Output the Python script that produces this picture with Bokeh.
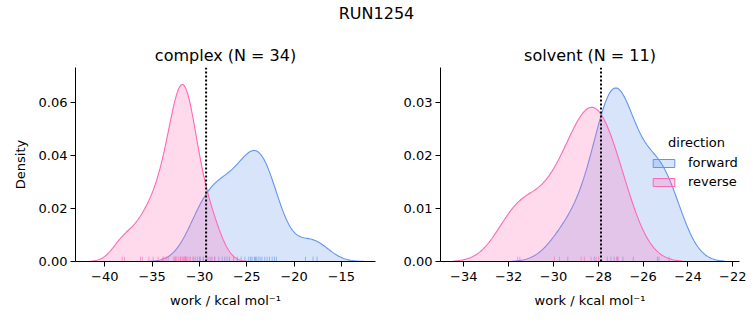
import numpy as np
from bokeh.plotting import figure
from bokeh.layouts import row, column
from bokeh.models import (Span, Legend, LegendItem, Range1d, FixedTicker,
                          CustomJSTickFormatter, Label)
from bokeh.embed import file_html
from bokeh.resources import INLINE

# ---------------- data ----------------
suptitle = "RUN1254"
phases = ["complex", "solvent"]
directions = ["forward", "reverse"]

complex_forward = [-29.9, -30.6, -30.0, -29.6, -29.2, -28.8, -28.4, -27.96, -27.6, -27.33,
                   -27.08, -26.83, -26.4, -26.0, -25.6, -25.2, -24.79, -24.6, -24.44, -24.2,
                   -24.09, -23.8, -23.4, -23.1, -22.85, -22.6, -22.32, -22.08, -21.87, -24.0,
                   -23.6, -18.8, -18.0, -17.57]
complex_reverse = [-38.16, -37.92, -36.23, -36.05, -35.35, -34.89, -34.36, -33.77, -33.5,
                   -33.3, -32.0, -31.5, -32.71, -32.6, -32.53, -32.4, -32.19, -33.9, -32.0,
                   -30.2, -31.83, -31.7, -31.6, -31.48, -31.4, -31.3, -31.1, -30.95, -30.7,
                   -30.4, -29.6, -29.0, -28.66, -28.38]
solvent_forward = [-29.36, -28.18, -27.6, -27.44, -27.29, -27.15, -26.9, -26.44, -25.36,
                   -25.29, -24.84]
solvent_reverse = [-31.6, -31.5, -29.96, -29.73, -28.77, -28.62, -28.32, -28.10, -27.98,
                   -27.18, -27.11]
estimates = {"complex": -29.3, "solvent": -27.88}

x_ticks = {"complex": [-40, -35, -30, -25, -20, -15],
           "solvent": [-34, -32, -30, -28, -26, -24, -22]}
y_ticks = {"complex": [0.0, 0.02, 0.04, 0.06],
           "solvent": [0.0, 0.01, 0.02, 0.03]}
x_limits = {"complex": (-43.1, -11.4), "solvent": (-35.04, -21.7)}
y_limits = {"complex": (0.0, 0.0732), "solvent": (0.0, 0.0366)}

samples = {("complex", "forward"): complex_forward,
           ("complex", "reverse"): complex_reverse,
           ("solvent", "forward"): solvent_forward,
           ("solvent", "reverse"): solvent_reverse}
n_cycles = {"complex": 34, "solvent": 11}

# ---------------- styling ----------------
LINE = {"forward": "#6495ED", "reverse": "#FF69B4"}
FONT = "DejaVu Sans"
total_n = sum(len(v) for v in samples.values())


def kde(vals, weight):
    x = np.asarray(vals, dtype=float)
    n = len(x)
    bw = n ** (-1 / 5) * x.std(ddof=1)
    grid = np.linspace(x.min() - 3 * bw, x.max() + 3 * bw, 200)
    d = np.exp(-0.5 * ((grid[:, None] - x[None, :]) / bw) ** 2).sum(1) / (n * bw * np.sqrt(2 * np.pi))
    return grid, d * weight


minus_fmt_x = CustomJSTickFormatter(code="return (tick < 0 ? '\u2212' : '') + Math.abs(tick).toFixed(0);")


def make_panel(phase, left_border, right_border, ylabel):
    p = figure(width=left_border + 300 + right_border, height=37 + 194 + 60,
               min_border_left=left_border, min_border_right=right_border,
               min_border_top=37, min_border_bottom=60,
               output_backend="svg", toolbar_location=None,
               x_range=Range1d(*x_limits[phase]), y_range=Range1d(*y_limits[phase]),
               title=f"{phase} (N = {n_cycles[phase]})")
    p.title.align = "center"
    p.title.text_font = FONT
    p.title.text_font_size = "16px"
    p.title.text_font_style = "normal"
    p.title.text_color = "black"
    p.title.standoff = 6
    p.outline_line_color = None
    p.grid.visible = False
    p.background_fill_color = "white"
    p.border_fill_color = "white"

    ymax = y_limits[phase][1]
    legend_renderers = {}
    for d in directions:
        s = samples[(phase, d)]
        g, dens = kde(s, len(s) / total_n)
        p.varea(x=g, y1=0, y2=dens, fill_color=LINE[d], fill_alpha=0.25)
        p.line(g, dens, line_color=LINE[d], line_width=1.1)
        p.segment(x0=s, x1=s, y0=[0] * len(s), y1=[ymax * 0.025] * len(s),
                  line_color=LINE[d], line_alpha=0.6, line_width=1)
        # hidden patch that only provides the legend swatch (fill + edge)
        legend_renderers[d] = p.patch(x=g, y=dens, fill_color=LINE[d], fill_alpha=0.25,
                                      line_color=LINE[d], line_width=1, visible=False)

    p.add_layout(Span(location=estimates[phase], dimension="height", line_color="black",
                      line_dash="2 2", line_width=2))

    for ax in (p.xaxis[0], p.yaxis[0]):
        ax.axis_line_color = "black"
        ax.axis_line_width = 1
        ax.major_tick_line_color = "black"
        ax.major_tick_out = 5
        ax.major_tick_in = 0
        ax.minor_tick_line_color = None
        ax.major_label_text_font = FONT
        ax.major_label_text_font_size = "13px"
        ax.major_label_text_color = "black"
        ax.axis_label_text_font = FONT
        ax.axis_label_text_font_size = "13px"
        ax.axis_label_text_font_style = "normal"
        ax.axis_label_text_color = "black"
        ax.major_label_standoff = 3
    p.xaxis.major_label_standoff = 5
    p.xaxis.ticker = FixedTicker(ticks=x_ticks[phase])
    p.yaxis.ticker = FixedTicker(ticks=y_ticks[phase])
    p.xaxis.formatter = minus_fmt_x
    p.yaxis.formatter = CustomJSTickFormatter(code="return tick.toFixed(2);")
    p.xaxis.axis_label = "work / kcal mol\u207b\u00b9"
    p.xaxis.axis_label_standoff = 9
    if ylabel:
        p.yaxis.axis_label = "Density"
        p.yaxis.axis_label_standoff = 8
    return p, legend_renderers


p1, _ = make_panel("complex", 75, 25, True)
p2, rr = make_panel("solvent", 39, 10, False)

legend = Legend(items=[LegendItem(label=d, renderers=[rr[d]]) for d in directions],
                location=(210, 72), orientation="vertical")
legend.glyph_width = 27
legend.glyph_height = 10
legend.label_height = 10
legend.label_standoff = 11
legend.spacing = 4
legend.padding = 0
legend.margin = 0
legend.border_line_alpha = 0
legend.background_fill_alpha = 0
legend.inactive_fill_alpha = 0
legend.label_text_font = FONT
legend.label_text_font_size = "13px"
legend.label_text_color = "black"
p2.add_layout(legend, "center")
p2.add_layout(Label(x=256, y=119, x_units="screen", y_units="screen", text="direction",
                    text_align="center", text_baseline="middle", text_font=FONT,
                    text_font_size="13px", text_color="black"))

# header strip carrying the figure-level title
head = figure(width=749, height=30, min_border=0, output_backend="svg",
              toolbar_location=None, x_axis_type=None, y_axis_type=None,
              x_range=Range1d(0, 1), y_range=Range1d(0, 1))
head.outline_line_color = None
head.grid.visible = False
head.add_layout(Label(x=376, y=17, x_units="screen", y_units="screen", text=suptitle,
                      text_align="center", text_baseline="middle", text_font=FONT,
                      text_font_size="16px", text_color="black"))

layout = column(head, row(p1, p2, spacing=0), spacing=0)
open("out.html", "w").write(file_html(layout, INLINE))
